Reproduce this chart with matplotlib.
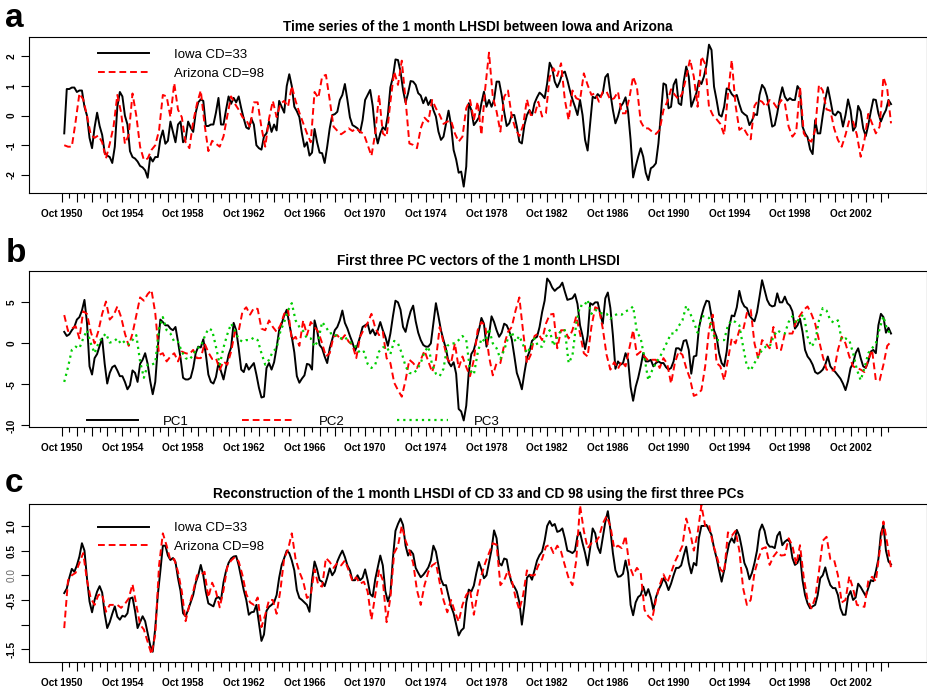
import numpy as np
import matplotlib.pyplot as plt
from matplotlib.lines import Line2D

plt.rcParams['font.family'] = ['Liberation Sans', 'DejaVu Sans']

# series start Dec 1950; solid series read every 2 months, dashed/dotted every 3 months
start = 1950 + 11 / 12.0

iowa_a = [
    -0.6, 0.9, 0.9, 0.95, 0.95, 0.8, 0.85, 0.85, 0.3, 0.0,
    -0.75, -1.1, -0.4, 0.1, -0.35, -0.65, -1.25, -1.35, -1.4, -1.6,
    -1.05, 0.3, 0.8, 0.65, 0.0, -0.3, -1.2, -1.4, -1.45, -1.55,
    -1.7, -1.75, -1.85, -2.1, -1.4, -1.55, -1.4, -1.4, -0.8, -0.5,
    -0.95, -0.85, -0.2, -0.55, -0.9, -0.3, -0.2, -0.9, -0.8, -0.2,
    -0.4, -0.55, 0.1, 0.45, 0.55, 0.5, -0.35, -0.35, -0.3, -0.3,
    0.1, 0.6, -0.3, -0.3, 0.2, 0.65, 0.4, 0.6, 0.45, 0.65,
    0.25, -0.1, -0.4, -0.45, -0.1, -0.3, -1.0, -1.1, -1.15, -0.7,
    -0.6, -0.2, -0.55, -0.3, -0.5, 0.5, 0.3, 0.1, 1.0, 1.4,
    1.0, 0.3, 0.15, -0.05, -0.6, -1.05, -0.9, -1.35, -1.25, -0.45,
    -0.9, -1.25, -1.27, -1.6, -1.05, -0.43, 0.02, 0.05, 0.13, 0.53,
    0.7, 1.07, 0.53, -0.06, -0.32, -0.37, -0.43, -0.57, -0.15, 0.53,
    0.7, 0.87, 0.33, -0.54, -0.94, -0.6, -0.39, -0.48, 0.02, 0.96,
    1.3, 1.9, 1.88, 1.49, 0.87, 0.44, 0.76, 1.17, 1.15, 1.04,
    0.76, 0.68, 0.42, 0.62, 0.36, 0.53, 0.19, -0.03, -0.54, -0.82,
    -0.71, -0.26, 0.17, -0.32, -1.16, -1.48, -1.93, -1.89, -2.4, -1.72,
    0.42, 0.19, -0.32, -0.2, -0.06, 0.42, 0.81, 0.3, 0.53, 0.3,
    0.53, 1.15, 1.15, 0.7, 0.13, -0.35, -0.26, 0.02, 0.02, -0.37,
    -0.88, -0.94, -0.32, 0.02, 0.19, 0.02, 0.42, 0.62, 0.78, 0.7,
    0.59, 1.09, 1.79, 1.6, 1.15, 0.96, 1.15, 1.43, 1.49, 1.2,
    0.85, 0.55, 0.3, 0.02, 0.53, 0.02, -0.82, -1.18, -0.26, 0.64,
    0.59, 0.73, 0.64, 0.76, 1.3, 1.41, 0.76, 0.19, -0.26, -0.03,
    0.3, 0.42, 0.62, 0.13, -0.82, -2.09, -1.72, -1.39, -1.1, -1.39,
    -1.93, -2.18, -1.78, -1.72, -1.61, -0.94, 0.08, 1.09, 1.04, 0.25,
    0.3, 1.04, 1.23, 0.42, 0.36, 1.15, 1.66, 1.32, 0.3, 0.53,
    0.76, 1.18, 1.07, 1.32, 1.71, 2.4, 2.22, 0.98, 0.53, 0.03,
    -0.03, 0.3, 0.92, 0.89, 0.73, 0.64, 0.7, 0.39, 0.13, 0.05,
    -0.01, -0.32, -0.17, 0.05, 0.02, 0.7, 1.04, 0.92, 0.64, 0.13,
    -0.37, -0.32, 0.08, 0.59, 0.96, 0.64, 0.51, 0.59, 0.53, 0.53,
    1.0, 0.87, -0.37, -0.6, -0.73, -1.14, -1.3, -0.15, -0.6, -0.6,
    0.01, 0.55, 0.96, 0.53, 0.07, 0.01, 0.14, 0.08, -0.37, 0.02,
    0.55, 0.19, -0.51, -0.37, 0.33, 0.14, -0.43, -0.69, -0.32, 0.14,
    0.55, 0.53, 0.08, -0.2, 0.02, 0.19, 0.53, 0.39,
]

arizona_a = [
    -1.0, -1.05, -1.05, -0.2, 0.75, 0.55, 0.0, -0.65, -0.75, -0.67,
    -0.9, -1.45, -0.95, -0.37, 0.7, 0.1, -0.95, -0.65, 0.75, 0.0,
    -1.05, -1.5, -1.45, -1.16, -1.0, -0.5, 0.7, 0.65, -0.05, 1.1,
    0.2, -0.05, -0.9, -1.1, -0.2, 0.4, 0.85, -0.3, -1.2, -0.85,
    -0.95, -1.05, -0.7, 0.0, 0.65, 0.4, 0.2, -0.05, -0.15, -0.4,
    0.45, 0.45, -0.4, -1.05, -0.1, 0.5, -0.05, 0.4, 0.5, 0.3,
    1.0, 0.5, 0.1, -0.25, -0.6, -0.9, 0.8, 0.6, 1.32, 1.38,
    0.53, -0.37, -0.51, -0.63, -0.54, -0.43, -0.52, -0.43, -0.54, -0.62,
    -0.99, -1.36, -0.6, 0.7, -0.6, -0.71, 0.47, 1.49, 1.04, 1.86,
    0.53, -0.94, -0.99, -1.1, -0.43, -0.07, -0.2, 0.53, 0.25, 0.02,
    -0.28, -0.2, -0.17, -0.6, -0.88, -0.71, 0.25, 0.53, -0.15, 0.47,
    -0.65, 0.92, 2.13, 0.64, 0.14, -0.54, 0.64, 0.85, -0.03, -0.46,
    -0.69, -0.32, 0.55, 0.02, 0.02, 0.47, -0.03, 0.08, 1.3, 1.6,
    1.34, 1.77, 0.53, -0.15, 0.85, 0.59, 0.53, 1.43, 1.04, 0.7,
    0.76, 0.47, 0.81, 0.81, 0.53, 0.59, 0.81, 0.08, 0.08, 0.59,
    1.32, 0.96, -0.2, -0.43, -0.43, -0.54, -0.62, -0.48, 0.19, 0.47,
    0.89, 0.7, 0.55, 0.76, 1.3, 1.9, 1.32, 0.3, 2.0, 1.75,
    0.3, 0.02, -0.12, -0.28, -0.65, 0.7, 1.88, 0.36, -0.48, -0.39,
    -0.62, -0.8, 0.33, 0.53, 0.47, 0.3, 0.53, 0.44, 0.25, 0.53,
    0.42, -0.37, -0.71, -0.54, 0.96, -0.6, -0.8, -0.88, -0.48, 1.04,
    0.85, 0.21, 0.17, -0.43, -0.82, -1.05, -0.65, -0.15, -0.2, -0.65,
    -1.39, -0.82, 0.06, -0.26, -0.6, -0.37, 1.3, 0.9, -0.26,
]

pc1 = [
    1.4, 0.9, 1.1, 1.6, 2.0, 2.9, 3.2, 4.0, 5.3, 2.5,
    -2.8, -3.8, -1.8, -1.3, -0.3, 0.6, -2.5, -4.9, -3.6, -2.9,
    -2.7, -3.3, -4.0, -4.0, -4.7, -5.6, -5.1, -3.3, -3.6, -4.7,
    -2.5, -2.0, -1.2, -2.5, -4.6, -6.2, -4.7, -0.5, 2.9, 2.6,
    2.2, 2.2, 1.8, 1.6, 2.0, 0.2, -1.8, -4.2, -4.4, -4.4,
    -4.2, -3.0, -1.2, -0.4, -0.5, 0.5, -1.3, -3.8, -4.7, -4.9,
    -4.1, -2.4, -3.4, -4.4, -2.9, -1.4, -0.5, 2.5, 1.6, -0.6,
    -3.2, -3.5, -2.5, -3.2, -2.8, -2.4, -3.8, -5.4, -6.6, -6.5,
    -3.0, -2.4, -3.2, -2.3, -0.5, 1.6, 2.4, 3.4, 4.1, 2.4,
    0.8, -1.1, -4.0, -4.8, -4.3, -3.9, -2.5, -2.6, -3.2, 2.8,
    1.6, -0.2, -0.6, -1.6, -2.4, -0.6, 0.5, 1.6, 2.0, 2.8,
    4.0, 2.5, 1.8, 0.9, 0.1, -0.9, -0.2, 0.8, 2.0, 2.2,
    2.4, 1.2, 1.7, 1.0, 1.6, 2.6, 1.6, 0.8, -0.3, 1.2,
    3.3, 5.2, 5.0, 4.1, 2.0, 1.4, 2.8, 3.9, 4.6, 2.7,
    1.3, 0.4, -0.2, -0.4, -0.4, 0.0, 2.5, 4.9, 3.3, 1.6,
    0.4, -0.7, -2.3, -2.8, -2.3, -3.7, -8.0, -8.3, -9.4, -7.6,
    -3.5, -1.3, -0.8, 0.4, 1.6, 3.1, 2.4, -0.4, 1.0, 3.3,
    2.6, 1.6, 0.8, 1.3, 2.4, 2.2, 1.5, 0.5, -1.5, -3.6,
    -4.5, -5.6, -3.6, -1.8, -1.0, 0.3, 0.6, 0.8, 2.0, 3.8,
    5.2, 7.9, 7.5, 6.8, 6.4, 6.7, 6.9, 7.4, 6.3, 5.3,
    5.4, 5.5, 6.0, 4.8, 2.2, 0.9, -0.7, 0.9, 4.9, 4.7,
    5.0, 5.0, 3.6, 2.4, 5.5, 6.2, 4.3, 1.0, -3.1, -2.2,
    -2.6, -2.4, -1.2, -2.0, -5.3, -7.0, -5.3, -4.2, -2.8, -1.2,
    -2.2, -2.2, -2.0, -2.8, -2.4, -2.2, -2.4, -2.4, -2.9, -3.2,
    -3.0, -2.2, -0.6, -0.6, -0.9, 0.3, 0.4, -0.8, -3.7, -1.6,
    -1.5, 1.8, 3.3, 4.4, 5.2, 5.1, 3.3, 1.6, 0.8, -1.2,
    -2.4, -2.8, -1.0, 2.0, 3.4, 3.3, 4.4, 6.4, 5.1, 4.5,
    4.3, 3.4, 3.0, 2.7, 3.8, 5.7, 7.7, 6.5, 5.3, 4.7,
    4.5, 4.6, 6.1, 5.0, 5.0, 5.7, 4.9, 4.6, 3.9, 1.8,
    2.2, 3.0, 1.4, -0.8, -1.6, -2.0, -2.6, -3.5, -3.7, -3.5,
    -3.2, -2.6, -1.6, -2.8, -3.2, -3.5, -3.9, -4.3, -4.9, -5.7,
    -4.6, -3.0, -2.4, -1.2, -0.6, -1.8, -2.8, -3.0, -2.2, -1.0,
    -0.8, -1.2, 2.2, 3.6, 3.2, 1.3, 1.9, 1.2,
]

pc2 = [
    3.45, 1.5, 1.8, 2.1, 0.6, 3.9, 3.6, 1.4, 0.0, 1.5,
    3.6, 5.1, 2.9, 3.4, 4.5, 3.2, 1.2, -0.3, 1.2, 3.4,
    5.6, 5.2, 6.0, 6.5, 3.7, -1.4, -1.2, -2.2, -1.6, -1.2,
    -2.2, -1.0, -1.2, -1.3, -0.8, -1.8, -1.8, 0.0, -1.1, -1.9,
    -1.8, -3.2, -2.2, -2.6, -1.0, 1.4, 1.5, 3.9, 4.4, 3.5,
    4.3, 4.2, 1.8, 1.6, 2.8, 2.0, 1.4, 2.2, 3.6, 4.1,
    0.4, 0.8, -0.3, 2.8, 1.0, 2.6, 2.0, 1.4, 0.0, -1.6,
    -1.2, 0.8, 1.0, 0.4, 1.0, 0.2, -0.2, -1.8, 0.8, 1.7,
    2.5, 3.6, 1.9, 1.0, 1.4, -1.8, -2.4, -4.8, -5.7, -6.5,
    -4.5, -2.0, -2.4, -3.0, -2.0, -0.9, -2.2, -3.5, -2.0, 2.0,
    0.1, -1.9, -2.4, 0.0, -3.0, -1.6, -2.9, -4.0, -2.0, 1.6,
    2.6, 2.2, -1.6, -3.9, -2.4, -2.4, -0.2, 1.4, 2.0, 4.0,
    5.6, 1.4, -2.4, -1.4, 0.9, 1.2, 0.4, 2.4, 3.5, 3.6,
    -0.6, 1.6, 1.6, 0.6, 1.6, 3.3, 1.2, -1.2, -1.6, 2.0,
    4.4, 4.2, 1.8, -1.4, -3.2, -2.3, -3.1, -2.2, -2.8, -0.6,
    1.6, -1.4, -1.0, -1.6, -2.1, -2.0, -2.0, -3.0, -1.8, -2.5,
    -4.9, -2.4, -1.0, -1.4, -3.0, -4.3, -6.4, -6.2, -5.7, -2.8,
    1.6, 3.5, -2.4, -2.8, -4.5, -2.0, 0.6, 0.0, 1.6, 1.6,
    3.7, 4.1, 0.0, -1.9, 0.4, 0.0, -0.6, 2.0, -0.8, -0.8,
    1.2, 1.2, 1.2, 2.7, 3.4, 4.1, 4.5, 3.6, 2.4, 0.4,
    -1.6, -3.2, -3.3, -3.3, -0.8, 0.8, 0.0, -1.6, -2.8, -3.0,
    -3.2, -3.5, -2.0, -0.8, -4.5, -4.5, -2.6, -0.3, 0.2,
]

pc3 = [
    -4.7, -2.9, -0.8, -0.4, -0.6, 0.6, 1.6, 0.0, -1.2, 0.0,
    0.7, 1.2, 0.1, 0.2, 0.6, -0.1, 0.3, -0.1, 0.4, 1.0,
    -2.2, -4.2, -2.6, -2.6, -2.4, 1.8, 3.2, 1.6, 1.2, 0.2,
    0.2, -1.0, -1.8, -2.0, -1.4, -0.6, -0.4, 0.8, 1.8, 1.6,
    -0.4, -2.6, -0.5, 1.1, 2.4, 1.6, 0.5, 0.2, 0.4, 0.4,
    0.7, 0.4, -1.2, -2.6, -2.0, -1.0, -0.6, 1.5, 2.6, 4.0,
    4.9, 2.8, 2.0, 1.5, 0.6, 0.6, -0.4, 0.4, 2.6, 2.0,
    1.2, 1.3, 0.8, 0.6, 0.8, 0.2, 0.0, -0.5, -1.2, -1.0,
    -2.5, -3.0, -2.6, -1.0, -0.5, -0.4, -1.3, 0.3, 0.0, -1.2,
    -2.8, -3.6, -3.7, -3.2, -2.4, -1.0, -0.4, -2.6, -3.7, -4.0,
    -3.1, -0.3, 0.0, 0.0, 0.4, 0.9, 0.4, -3.3, -3.8, -1.2,
    0.6, 0.2, 1.8, 0.0, -0.6, -1.9, -0.8, 0.6, 1.4, 0.2,
    0.9, -0.2, -1.2, -0.4, 0.6, -0.4, -0.4, 0.8, 1.6, -0.3,
    0.8, 1.6, 1.6, -2.4, -1.5, 2.4, 4.6, 4.5, 5.3, 3.6,
    4.1, 3.8, 3.6, 3.6, 3.0, 3.4, 3.6, 3.5, 3.9, 4.1,
    4.5, 1.4, 0.6, -1.8, -4.5, -3.3, -2.4, -1.7, -0.8, 0.2,
    1.2, 1.2, 2.1, 2.8, 4.6, 3.7, 2.6, 1.3, 3.3, 3.3,
    3.1, 1.2, 0.4, 0.4, 0.4, 2.2, 2.8, 2.6, 2.2, -0.4,
    -2.8, -3.3, -2.4, -1.6, -0.8, -0.4, -0.4, 0.8, 1.6, 1.3,
    1.2, 2.6, 3.3, 2.4, 3.2, 3.5, 0.8, -0.4, 0.2, 2.8,
    4.3, 4.0, 2.8, 2.5, 2.8, 0.4, 0.6, 0.4, -1.2, -3.2,
    -4.5, -3.0, -1.2, -0.6, 0.0, 1.8, 3.3, 1.6, 1.2,
]

iowa_c = [
    -0.36, -0.27, -0.05, 0.13, 0.07, 0.2, 0.38, 0.65, 0.5, -0.06,
    -0.53, -0.75, -0.5, -0.33, -0.22, -0.35, -0.78, -1.07, -0.95, -0.78,
    -0.63, -0.84, -0.9, -0.82, -0.84, -0.77, -0.47, -0.45, -0.72, -1.07,
    -0.95, -0.83, -0.93, -1.17, -1.42, -1.55, -1.07, -0.4, 0.08, 0.6,
    0.6, 0.4, 0.31, 0.35, 0.27, -0.06, -0.32, -0.77, -0.83, -0.7,
    -0.55, -0.4, -0.15, 0.0, 0.21, 0.0, -0.33, -0.57, -0.6, -0.63,
    -0.47, -0.44, -0.5, -0.14, 0.09, 0.25, 0.34, 0.38, 0.39, 0.2,
    -0.05, -0.3, -0.5, -0.8, -0.75, -0.74, -0.6, -0.97, -1.33, -1.2,
    -0.72, -0.64, -0.6, -0.55, -0.4, -0.05, 0.21, 0.35, 0.5, 0.45,
    0.3, 0.1, -0.3, -0.46, -0.5, -0.55, -0.6, -0.74, -0.1, 0.28,
    0.12, -0.1, -0.13, -0.22, -0.05, 0.14, 0.0, 0.08, 0.28, 0.4,
    0.5, 0.37, 0.2, 0.1, -0.1, -0.1, 0.0, -0.1, -0.05, 0.12,
    -0.1, -0.38, -0.43, -0.08, 0.16, 0.4, 0.2, -0.32, -0.53, -0.37,
    0.35, 0.9, 1.04, 1.15, 1.02, 0.6, 0.4, 0.5, 0.43, 0.15,
    0.05, -0.04, 0.01, 0.08, 0.16, 0.3, 0.6, 0.48, 0.2, -0.08,
    -0.2, -0.2, -0.42, -0.63, -0.77, -1.0, -1.22, -1.12, -1.07, -0.55,
    -0.29, -0.33, -0.21, 0.05, 0.27, 0.12, -0.06, 0.0, 0.26, 0.52,
    0.91, 0.75, 0.25, 0.2, 0.34, 0.32, 0.03, -0.16, -0.23, -0.33,
    -0.55, -1.0, -0.6, -0.05, 0.01, -0.09, 0.1, 0.3, 0.41, 0.48,
    0.7, 1.0, 1.1, 1.0, 1.04, 0.88, 0.9, 0.95, 0.75, 0.5,
    0.48, 0.45, 0.5, 0.8, 0.87, 0.65, 0.45, 0.2, 0.55, 0.95,
    0.85, 0.57, 0.45, 0.77, 1.08, 1.3, 0.93, 0.45, 0.1, -0.03,
    -0.02, 0.03, 0.3, 0.05, -0.6, -0.81, -0.55, -0.44, -0.4, -0.23,
    -0.41, -0.28, -0.45, -0.7, -0.45, -0.3, -0.2, -0.06, -0.15, -0.3,
    -0.17, 0.0, 0.15, 0.15, 0.2, 0.4, 0.58, 0.25, 0.04, 0.25,
    0.2, 0.75, 1.0, 1.0, 1.02, 0.92, 0.82, 0.55, 0.35, 0.1,
    -0.13, 0.1, 0.41, 0.65, 0.75, 0.66, 0.92, 0.8, 0.55, 0.25,
    0.13, -0.08, 0.05, 0.25, 0.5, 0.9, 1.03, 0.9, 0.65, 0.58,
    0.58, 0.55, 0.8, 0.88, 0.61, 0.68, 0.72, 0.68, 0.35, 0.21,
    0.25, 0.41, -0.1, -0.4, -0.57, -0.67, -0.63, -0.6, -0.4, -0.06,
    0.0, 0.16, -0.05, -0.2, -0.26, -0.26, -0.4, -0.67, -0.8, -0.8,
    -0.43, -0.32, -0.5, -0.45, -0.17, -0.24, -0.33, -0.42, -0.26, -0.1,
    -0.12, 0.08, 0.33, 0.85, 1.02, 0.5, 0.28, 0.22,
]

arizona_c = [
    -1.07, -0.1, 0.0, 0.05, 0.25, 0.45, -0.1, -0.47, -0.6, -0.4,
    -0.38, -0.74, -0.6, -0.6, -0.6, -0.66, -0.58, -0.47, -0.18, -0.6,
    -1.0, -1.1, -1.35, -1.6, -1.2, 0.2, 0.85, 0.6, 0.3, 0.33,
    0.07, -0.33, -0.93, -0.6, -0.33, 0.0, 0.0, 0.07, -0.45, -0.15,
    -0.33, -0.65, -0.3, 0.17, 0.3, 0.37, 0.28, 0.0, -0.38, -0.55,
    -0.6, -0.45, -1.05, -0.8, -0.5, -0.5, -0.78, -0.3, 0.35, 0.52,
    0.85, 0.33, 0.07, -0.12, -0.46, -0.4, 0.12, -0.2, -0.23, 0.35,
    0.27, 0.15, 0.25, 0.2, 0.3, 0.1, -0.12, -0.04, -0.17, -0.13,
    -0.33, -0.9, -0.4, 0.1, -0.1, -0.95, -0.45, 0.45, 0.6, 1.0,
    0.7, 0.5, 0.25, -0.3, -0.6, -0.2, 0.07, 0.2, 0.25, -0.15,
    -0.5, -0.75, -0.5, -0.74, -0.94, -0.6, -0.4, -0.3, -0.8, -0.35,
    0.0, 0.25, 0.45, 0.65, 0.62, -0.2, -0.1, 0.1, -0.1, -0.45,
    -0.7, -0.4, 0.1, 0.0, 0.0, 0.2, 0.33, 0.58, 0.62, 0.45,
    0.6, 0.48, 0.2, -0.06, -0.2, 0.3, 1.42, 0.9, 0.55, 0.65,
    0.65, 0.78, 1.05, 1.2, 1.0, 0.55, 0.6, 0.55, 0.8, 0.2,
    0.0, 0.15, 0.05, -0.7, -0.83, -0.9, -0.5, -0.2, 0.02, -0.15,
    0.05, 0.27, 0.43, 0.6, 1.15, 0.88, 0.5, 0.85, 1.42, 1.0,
    1.03, 0.65, 0.4, 0.12, 0.05, 0.87, 0.8, 0.9, 0.5, -0.26,
    -0.6, -0.5, 0.05, 0.33, 0.54, 0.57, 0.21, 0.38, 0.48, 0.4,
    0.41, 0.75, 0.6, 0.22, 0.61, -0.05, -0.5, -0.67, -0.46, 0.08,
    0.7, 0.78, 0.33, 0.31, 0.0, -0.55, -0.5, -0.02, -0.27, -0.6,
    -0.62, -0.64, -0.12, -0.03, -0.12, 0.48, 1.09, 0.65, 0.15,
]

label_years = list(range(1950, 2003, 4))

BLACK = 'black'
RED = '#FF0000'
GREEN = '#00CD00'
DASH = (0, (3.5, 2.0))
DOT = (0, (1.0, 1.8))


def bimonthly(v):
    return start + np.arange(len(v)) / 6.0


def quarterly(v):
    return start + np.arange(len(v)) / 4.0


def style_axes(ax, ylim, yticks, ylabels):
    ax.set_xlim(1948.594, 2007.79)
    ax.set_ylim(*ylim)
    major = 1950.75 + np.arange(55)
    minor = 1951.25 + np.arange(55)
    ax.set_xticks(major)
    ax.set_xticklabels(['Oct %d' % int(y) if int(y) in label_years else '' for y in major],
                       fontsize=7.2, fontweight='bold')
    ax.set_xticks(minor, minor=True)
    ax.tick_params(axis='x', which='major', length=6.5, width=0.8, pad=5)
    ax.tick_params(axis='x', which='minor', length=3.6, width=0.8)
    ax.set_yticks(yticks)
    ax.set_yticklabels(ylabels, fontsize=7.2, fontweight='bold', rotation=90, va='center')
    ax.tick_params(axis='y', length=6, width=0.8, pad=3)
    for s in ax.spines.values():
        s.set_linewidth(0.8)


fig = plt.figure(figsize=(9.28, 6.91), dpi=100)
ax_a = fig.add_axes([0.03125, 0.7207, 0.9677, 0.2258])
ax_b = fig.add_axes([0.03125, 0.3820, 0.9677, 0.2258])
ax_c = fig.add_axes([0.03125, 0.0420, 0.9677, 0.2287])

# panel a
ax_a.plot(bimonthly(iowa_a), iowa_a, color=BLACK, lw=1.4)
ax_a.plot(quarterly(arizona_a), arizona_a, color=RED, lw=1.4, ls=DASH)
style_axes(ax_a, (-2.615, 2.66), [-2, -1, 0, 1, 2], ['-2', '-1', '0', '1', '2'])
ax_a.set_title('Time series of the 1 month LHSDI between Iowa and Arizona',
               fontsize=9.8, fontweight='bold', pad=4)
ax_a.legend([Line2D([], [], color=BLACK, lw=1.4), Line2D([], [], color=RED, lw=1.4, ls=DASH)],
            ['Iowa CD=33', 'Arizona CD=98'], loc='upper left', bbox_to_anchor=(0.0768, 0.925),
            frameon=False, fontsize=9.5, handlelength=3.9, handletextpad=1.9,
            borderpad=0, borderaxespad=0, labelspacing=0.52)

# panel b
ax_b.plot(bimonthly(pc1), pc1, color=BLACK, lw=1.4)
ax_b.plot(quarterly(pc2), pc2, color=RED, lw=1.4, ls=DASH)
ax_b.plot(quarterly(pc3), pc3, color=GREEN, lw=1.6, ls=DOT)
style_axes(ax_b, (-10.2, 8.82), [-10, -5, 0, 5], ['-10', '-5', '0', '5'])
ax_b.set_title('First three PC vectors of the 1 month LHSDI',
               fontsize=9.8, fontweight='bold', pad=4)
ax_b.legend([Line2D([], [], color=BLACK, lw=1.4), Line2D([], [], color=RED, lw=1.4, ls=DASH),
             Line2D([], [], color=GREEN, lw=1.6, ls=DOT)],
            ['PC1', 'PC2', 'PC3'], loc='center left', bbox_to_anchor=(0.0643, 0.033),
            ncol=3, frameon=False, fontsize=9.5, handlelength=3.9, handletextpad=1.9,
            columnspacing=4.0, borderpad=0, borderaxespad=0)

# panel c
ax_c.plot(bimonthly(iowa_c), iowa_c, color=BLACK, lw=1.4)
ax_c.plot(quarterly(arizona_c), arizona_c, color=RED, lw=1.4, ls=DASH)
style_axes(ax_c, (-1.757, 1.446), [-1.5, -1.0, -0.5, 0.0, 0.5, 1.0],
           ['-1.5', '', '-0.5', '0.0', '0.5', '1.0'])
for t in ax_c.get_yticklabels():
    if t.get_text() == '0.0':
        t.set_fontweight('normal')
        t.set_color('#666666')
ax_c.set_title('Reconstruction of the 1 month LHSDI of CD 33 and CD 98 using the first three PCs',
               fontsize=9.8, fontweight='bold', pad=4)
ax_c.legend([Line2D([], [], color=BLACK, lw=1.4), Line2D([], [], color=RED, lw=1.4, ls=DASH)],
            ['Iowa CD=33', 'Arizona CD=98'], loc='upper left', bbox_to_anchor=(0.0768, 0.885),
            frameon=False, fontsize=9.5, handlelength=3.9, handletextpad=1.9,
            borderpad=0, borderaxespad=0, labelspacing=0.45)

fig.text(0.0054, 0.961, 'a', fontsize=24, fontweight='bold', va='baseline')
fig.text(0.0060, 0.6213, 'b', fontsize=24, fontweight='bold', va='baseline')
fig.text(0.0054, 0.2884, 'c', fontsize=24, fontweight='bold', va='baseline')

fig.savefig('out.png', dpi=100)
